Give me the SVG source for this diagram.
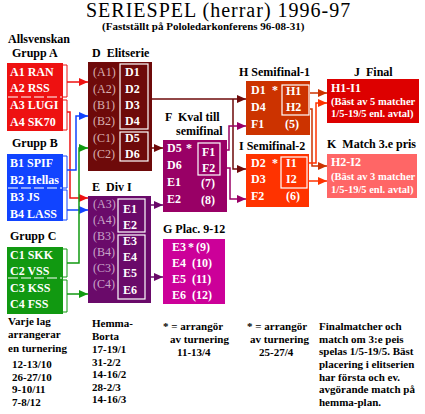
<svg xmlns="http://www.w3.org/2000/svg" width="425" height="414" viewBox="0 0 425 414">
<defs>
<style>
text{font-family:"Liberation Serif","Times New Roman",serif;white-space:pre}
.ti{font-size:20px;letter-spacing:1px;fill:#000}
.sub{font-size:11px;font-weight:bold;fill:#000}
.h{font-size:12px;font-weight:bold;fill:#000}
.n{font-size:12px;font-weight:bold;fill:#fff}
.pd{font-size:12px;fill:#d8b0b0}
.pe{font-size:12px;fill:#c8a4c8}
.s{font-size:10.5px;font-weight:bold;fill:#fff}
.b{font-size:11px;font-weight:bold;fill:#000}
.ib{fill:none;stroke:#fff;stroke-width:1.2}
.dash{stroke:#fff;stroke-width:1.2;stroke-dasharray:10,3}
.br{fill:none;stroke-width:1}
.c{fill:none;stroke-width:1.5}
</style>
<marker id="mR" markerUnits="userSpaceOnUse" markerWidth="9" markerHeight="8" refX="9" refY="4" orient="auto"><path d="M0,0L9,4L0,8z" fill="#ee1111"/></marker>
<marker id="mB" markerUnits="userSpaceOnUse" markerWidth="9" markerHeight="8" refX="9" refY="4" orient="auto"><path d="M0,0L9,4L0,8z" fill="#1144ff"/></marker>
<marker id="mG" markerUnits="userSpaceOnUse" markerWidth="9" markerHeight="8" refX="9" refY="4" orient="auto"><path d="M0,0L9,4L0,8z" fill="#119911"/></marker>
<marker id="mD" markerUnits="userSpaceOnUse" markerWidth="9" markerHeight="8" refX="9" refY="4" orient="auto"><path d="M0,0L9,4L0,8z" fill="#6e0a0a"/></marker>
<marker id="mE" markerUnits="userSpaceOnUse" markerWidth="9" markerHeight="8" refX="9" refY="4" orient="auto"><path d="M0,0L9,4L0,8z" fill="#6a0a6a"/></marker>
<marker id="mF" markerUnits="userSpaceOnUse" markerWidth="9" markerHeight="8" refX="9" refY="4" orient="auto"><path d="M0,0L9,4L0,8z" fill="#990066"/></marker>
<marker id="mH" markerUnits="userSpaceOnUse" markerWidth="9" markerHeight="8" refX="9" refY="4" orient="auto"><path d="M0,0L9,4L0,8z" fill="#cc3300"/></marker>
<marker id="mI" markerUnits="userSpaceOnUse" markerWidth="9" markerHeight="8" refX="9" refY="4" orient="auto"><path d="M0,0L9,4L0,8z" fill="#ff3300"/></marker>
</defs>
<rect width="425" height="414" fill="#fff"/>
<text class="ti" x="86" y="17">SERIESPEL (herrar) 1996-97</text>
<text class="sub" x="102" y="30">(Fastställt på Pololedarkonferens 96-08-31)</text>
<text class="h" x="8" y="43">Allsvenskan</text>
<text class="h" x="12" y="57">Grupp A</text>
<text class="h" x="12" y="147">Grupp B</text>
<text class="h" x="10" y="240">Grupp C</text>
<text class="h" x="92" y="57">D  Elitserie</text>
<text class="h" x="92" y="191">E  Div I</text>
<text class="h" x="165" y="121">F  Kval till</text>
<text class="h" x="176" y="135">semifinal</text>
<text class="h" x="163" y="233">G Plac. 9-12</text>
<text class="h" x="239" y="76">H Semifinal-1</text>
<text class="h" x="239" y="150">I Semifinal-2</text>
<text class="h" x="354" y="76">J  Final</text>
<text class="h" x="327" y="148">K  Match 3.e pris</text>

<g id="connectors">
<path class="br" stroke="#ee1111" d="M63,65H67V97H63M63,100H67V130H63"/>
<path class="br" stroke="#1144ff" d="M63,156H67V188H63M63,190H67V220H63"/>
<path class="br" stroke="#119911" d="M63,249H67V277H63M63,280H67V312H63"/>
<path class="c" stroke="#ee1111" marker-end="url(#mR)" d="M67,82H88"/>
<path class="c" stroke="#ee1111" marker-end="url(#mR)" d="M67,112H70V198H88"/>
<path class="c" stroke="#1144ff" marker-end="url(#mB)" d="M67,170H76V116H88"/>
<path class="c" stroke="#1144ff" marker-end="url(#mB)" d="M67,210H88"/>
<path class="c" stroke="#119911" marker-end="url(#mG)" d="M67,263H79V148H88"/>
<path class="c" stroke="#119911" marker-end="url(#mG)" d="M67,294H88"/>
<path class="c" stroke="#6e0a0a" marker-end="url(#mD)" d="M148,99H246"/>
<path class="c" stroke="#6e0a0a" marker-end="url(#mD)" d="M233,99V169H246"/>
<path class="c" stroke="#6e0a0a" marker-end="url(#mD)" d="M148,148H163"/>
<path class="c" stroke="#6a0a6a" marker-end="url(#mE)" d="M145,205H163"/>
<path class="c" stroke="#6a0a6a" marker-end="url(#mE)" d="M145,277H163"/>
<path class="c" stroke="#990066" marker-end="url(#mF)" d="M220,150H229V126H246"/>
<path class="c" stroke="#990066" marker-end="url(#mF)" d="M220,168H230V199H246"/>
<path class="c" stroke="#cc3300" marker-end="url(#mH)" d="M309,93H327"/>
<path class="c" stroke="#cc3300" marker-end="url(#mH)" d="M309,109H312V166H327"/>
<path class="c" stroke="#ff3300" marker-end="url(#mI)" d="M307,163H316V103H327"/>
<path class="c" stroke="#ff3300" marker-end="url(#mI)" d="M307,181H327"/>
</g>

<g id="grupp-a">
<rect x="7" y="63" width="56" height="68" fill="#ee1111"/>
<line class="dash" x1="8" y1="97" x2="62" y2="97"/>
<text class="n" x="10" y="76">A1 RAN</text>
<text class="n" x="10" y="92">A2 RSS</text>
<text class="n" x="10" y="109">A3 LUGI</text>
<text class="n" x="10" y="126">A4 SK70</text>
</g>
<g id="grupp-b">
<rect x="7" y="154" width="56" height="67" fill="#1144ff"/>
<line class="dash" x1="8" y1="188" x2="62" y2="188"/>
<text class="n" x="10" y="167">B1 SPIF</text>
<text class="n" x="10" y="184">B2 Hellas</text>
<text class="n" x="10" y="201">B3 JS</text>
<text class="n" x="10" y="218">B4 LASS</text>
</g>
<g id="grupp-c">
<rect x="7" y="247" width="56" height="67" fill="#119911"/>
<line class="dash" x1="8" y1="278" x2="62" y2="278"/>
<text class="n" x="10" y="259">C1 SKK</text>
<text class="n" x="10" y="275">C2 VSS</text>
<text class="n" x="10" y="292">C3 KSS</text>
<text class="n" x="10" y="308">C4 FSS</text>
</g>
<g id="d-elitserie">
<rect x="88" y="62" width="64" height="109" fill="#6e0a0a"/>
<rect class="ib" x="120" y="64" width="28" height="65"/>
<rect class="ib" x="120" y="132" width="28" height="29"/>
<text class="pd" x="93" y="76">(A1)</text>
<text class="pd" x="93" y="93">(A2)</text>
<text class="pd" x="93" y="109">(B1)</text>
<text class="pd" x="93" y="125">(B2)</text>
<text class="pd" x="93" y="142">(C1)</text>
<text class="pd" x="93" y="158">(C2)</text>
<text class="n" x="125" y="76">D1</text>
<text class="n" x="125" y="93">D2</text>
<text class="n" x="125" y="109">D3</text>
<text class="n" x="125" y="125">D4</text>
<text class="n" x="125" y="142">D5</text>
<text class="n" x="125" y="158">D6</text>
</g>
<g id="e-div1">
<rect x="88" y="196" width="63" height="107" fill="#6a0a6a"/>
<rect class="ib" x="118" y="199" width="27" height="33"/>
<rect class="ib" x="118" y="235" width="27" height="64"/>
<text class="pe" x="93" y="208">(A3)</text>
<text class="pe" x="93" y="224">(A4)</text>
<text class="pe" x="93" y="240">(B3)</text>
<text class="pe" x="93" y="256">(B4)</text>
<text class="pe" x="93" y="272">(C3)</text>
<text class="pe" x="93" y="288">(C4)</text>
<text class="n" x="123" y="213">E1</text>
<text class="n" x="123" y="229">E2</text>
<text class="n" x="123" y="245">E3</text>
<text class="n" x="123" y="261">E4</text>
<text class="n" x="123" y="277">E5</text>
<text class="n" x="123" y="294">E6</text>
</g>
<g id="f-kval">
<rect x="163" y="140" width="64" height="72" fill="#990066"/>
<rect class="ib" x="198" y="143" width="22" height="32"/>
<text class="n" x="167" y="152">D5</text>
<text class="n" x="186" y="152">*</text>
<text class="n" x="167" y="169">D6</text>
<text class="n" x="167" y="186">E1</text>
<text class="n" x="167" y="203">E2</text>
<text class="n" x="202" y="156">F1</text>
<text class="n" x="202" y="172">F2</text>
<text class="n" x="201" y="187">(7)</text>
<text class="n" x="201" y="204">(8)</text>
</g>
<g id="g-plac">
<rect x="163" y="239" width="62" height="65" fill="#cc0099"/>
<text class="n" x="172" y="251">E3</text>
<text class="n" x="188" y="251">*</text>
<text class="n" x="196" y="251">(9)</text>
<text class="n" x="172" y="267">E4</text>
<text class="n" x="192" y="267">(10)</text>
<text class="n" x="172" y="283">E5</text>
<text class="n" x="192" y="283">(11)</text>
<text class="n" x="172" y="299">E6</text>
<text class="n" x="192" y="299">(12)</text>
</g>
<g id="h-semi1">
<rect x="246" y="81" width="64" height="54" fill="#cc3300"/>
<rect class="ib" x="282" y="85" width="27" height="30"/>
<text class="n" x="251" y="94">D1</text>
<text class="n" x="272" y="94">*</text>
<text class="n" x="251" y="111">D4</text>
<text class="n" x="251" y="128">F1</text>
<text class="n" x="285" y="128">(5)</text>
<text class="n" x="286" y="95">H1</text>
<text class="n" x="286" y="111">H2</text>
</g>
<g id="i-semi2">
<rect x="246" y="154" width="63" height="53" fill="#ff3300"/>
<rect class="ib" x="281" y="157" width="26" height="31"/>
<text class="n" x="251" y="167">D2</text>
<text class="n" x="272" y="167">*</text>
<text class="n" x="251" y="183">D3</text>
<text class="n" x="251" y="200">F2</text>
<text class="n" x="286" y="200">(6)</text>
<text class="n" x="286" y="167">I1</text>
<text class="n" x="286" y="183">I2</text>
</g>
<g id="j-final">
<rect x="327" y="79" width="92" height="44" fill="#dd0000"/>
<text class="n" x="331" y="92">H1-I1</text>
<text class="s" x="331" y="105">(Bäst av 5 matcher</text>
<text class="s" x="331" y="117">1/5-19/5 enl. avtal)</text>
</g>
<g id="k-match3">
<rect x="327" y="154" width="90" height="44" fill="#ff6666"/>
<text class="n" x="331" y="166">H2-I2</text>
<text class="s" x="331" y="180">(Bäst av 3 matcher</text>
<text class="s" x="331" y="193">1/5-19/5 enl. avtal)</text>
</g>

<text class="b" x="8" y="325">Varje lag</text>
<text class="b" x="8" y="338">arrangerar</text>
<text class="b" x="8" y="352">en turnering</text>
<text class="b" x="12" y="368">12-13/10</text>
<text class="b" x="12" y="381">26-27/10</text>
<text class="b" x="12" y="393">9-10/11</text>
<text class="b" x="12" y="406">7-8/12</text>
<text class="b" x="92" y="327">Hemma-</text>
<text class="b" x="92" y="340">Borta</text>
<text class="b" x="92" y="353">17-19/1</text>
<text class="b" x="92" y="366">31-2/2</text>
<text class="b" x="92" y="378">14-16/2</text>
<text class="b" x="92" y="391">28-2/3</text>
<text class="b" x="92" y="403">14-16/3</text>
<text class="b" x="163" y="330">* = arrangör</text>
<text class="b" x="170" y="343">av turnering</text>
<text class="b" x="177" y="356">11-13/4</text>
<text class="b" x="247" y="330">* = arrangör</text>
<text class="b" x="250" y="343">av turnering</text>
<text class="b" x="259" y="356">25-27/4</text>
<text class="b" x="319" y="330">Finalmatcher och</text>
<text class="b" x="319" y="343">match om 3:e peis</text>
<text class="b" x="319" y="355">spelas 1/5-19/5. Bäst</text>
<text class="b" x="319" y="368">placering i elitserien</text>
<text class="b" x="319" y="381">har första och ev.</text>
<text class="b" x="319" y="393">avgörande match på</text>
<text class="b" x="319" y="406">hemma-plan.</text>
</svg>
